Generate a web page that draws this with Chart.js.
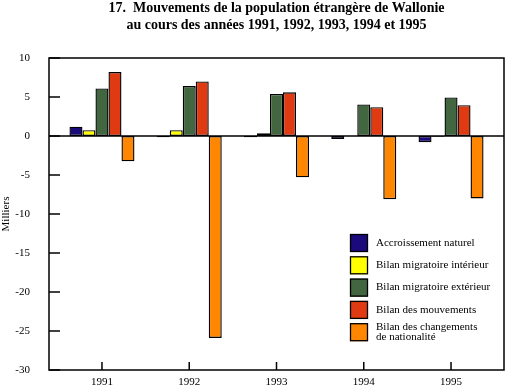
<!DOCTYPE html>
<html>
<head>
<meta charset="utf-8">
<script src="https://cdn.jsdelivr.net/npm/chart.js@4/dist/chart.umd.min.js"></script>
<style>
  html, body { margin: 0; padding: 0; background: #ffffff; }
  #wrap { width: 505px; height: 388px; }
</style>
</head>
<body>
<div id="wrap"><canvas id="c" width="505" height="388"></canvas></div>
<script>
// ---- data ----
const years = [1991, 1992, 1993, 1994, 1995];
const yTicks = [10, 5, 0, -5, -10, -15, -20, -25, -30];
const accroissementNaturel = [1.2, -0.15, -0.15, -0.4, -0.8];
const bilanMigratoireInterieur = [0.75, 0.75, 0.35, 0.0, -0.1];
const bilanMigratoireExterieur = [6.1, 6.4, 5.4, 4.05, 4.95];
const bilanMouvements = [8.2, 7.0, 5.6, 3.7, 3.95];
const bilanChangementsNationalite = [-3.25, -25.9, -5.3, -8.1, -8.0];
const seriesNames = [
  "Accroissement naturel",
  "Bilan migratoire intérieur",
  "Bilan migratoire extérieur",
  "Bilan des mouvements",
  "Bilan des changements\nde nationalité"
];
const titleLines = [
  "17.  Mouvements de la population étrangère de Wallonie",
  "au cours des années 1991, 1992, 1993, 1994 et 1995"
];
const axisTitle = "Milliers";

const colors = ["#1a0a7c", "#ffff00", "#42663f", "#e03a12", "#ff8600"];
const series = [accroissementNaturel, bilanMigratoireInterieur, bilanMigratoireExterieur, bilanMouvements, bilanChangementsNationalite];

const FONT = "'Liberation Serif', 'Times New Roman', serif";

const datasets = series.map((arr, i) => ({
  label: seriesNames[i],
  data: years.map((yr, j) => ({ x: yr, y: arr[j] })),
  backgroundColor: colors[i],
  borderColor: "#000000",
  borderWidth: 1.4,
  borderSkipped: false,
  categoryPercentage: 0.745,
  barPercentage: 1.0
}));

const framePlugin = {
  id: 'frame',
  afterDatasetsDraw(chart) {
    const ctx = chart.ctx;
    const a = chart.chartArea;
    const xs = chart.scales.x, ys = chart.scales.y;
    ctx.save();
    ctx.strokeStyle = "#000";
    ctx.lineWidth = 1.5;
    const y0 = ys.getPixelForValue(0);
    ctx.beginPath();
    ctx.moveTo(a.left, y0); ctx.lineTo(a.right, y0);
    ctx.stroke();
    ctx.strokeRect(a.left, a.top, a.right - a.left, a.bottom - a.top);
    yTicks.forEach(v => {
      const py = ys.getPixelForValue(v);
      ctx.beginPath();
      ctx.moveTo(a.left, py); ctx.lineTo(a.left + 11, py);
      ctx.stroke();
    });
    years.forEach(v => {
      const px = xs.getPixelForValue(v);
      ctx.beginPath();
      ctx.moveTo(px, a.bottom); ctx.lineTo(px, a.bottom - 8);
      ctx.stroke();
    });
    ctx.restore();
  },
  afterDraw(chart) {
    const ctx = chart.ctx;
    ctx.save();
    ctx.font = "11px " + FONT;
    ctx.textBaseline = "middle";
    ctx.textAlign = "left";
    chart.data.datasets.forEach((ds, i) => {
      const bx = 350, by = 234 + i * 22.3, s = 18;
      ctx.fillStyle = ds.backgroundColor;
      ctx.fillRect(bx, by, s, s);
      ctx.strokeStyle = "#000";
      ctx.lineWidth = 1.3;
      ctx.strokeRect(bx + 0.5, by + 0.5, s - 1, s - 1);
      ctx.fillStyle = "#000";
      const lines = ds.label.split("\n");
      const lh = 9.5;
      const cy = by + s / 2;
      lines.forEach((t, k) => {
        ctx.fillText(t, 376, cy + (k - (lines.length - 1) / 2) * lh);
      });
    });
    ctx.restore();
  }
};

new Chart(document.getElementById('c'), {
  type: 'bar',
  data: { datasets },
  options: {
    responsive: false,
    animation: false,
    devicePixelRatio: 1,
    layout: { padding: { left: 0, right: 1, top: 0, bottom: 0 } },
    plugins: {
      legend: { display: false },
      tooltip: { enabled: false },
      title: {
        display: true,
        text: titleLines,
        fullSize: false,
        color: "#000",
        font: { family: FONT, size: 14, weight: 'bold', lineHeight: 17 / 14 },
        padding: { top: 0, bottom: 24 }
      }
    },
    scales: {
      x: {
        type: 'linear',
        offset: false,
        min: 1990.393,
        max: 1995.607,
        grid: { display: false, drawTicks: true, tickLength: 4, offset: false },
        border: { display: false },
        afterBuildTicks(scale) { scale.ticks = years.map(v => ({ value: v })); },
        afterFit(scale) { scale.height = 18; },
        ticks: {
          color: "#000",
          font: { family: FONT, size: 11 },
          padding: 2,
          maxRotation: 0,
          autoSkip: false,
          callback: v => String(v)
        }
      },
      y: {
        min: -30,
        max: 10,
        grid: { display: false, drawTicks: true, tickLength: 16 },
        border: { display: false },
        afterBuildTicks(scale) { scale.ticks = yTicks.map(v => ({ value: v })); },
        afterFit(scale) { scale.width = 49; },
        title: {
          display: true,
          text: axisTitle,
          color: "#000",
          font: { family: FONT, size: 11 },
          padding: { top: 0, bottom: 0 }
        },
        ticks: {
          color: "#000",
          font: { family: FONT, size: 11 },
          padding: 3,
          callback: v => String(v)
        }
      }
    }
  },
  plugins: [framePlugin]
});
</script>
</body>
</html>
